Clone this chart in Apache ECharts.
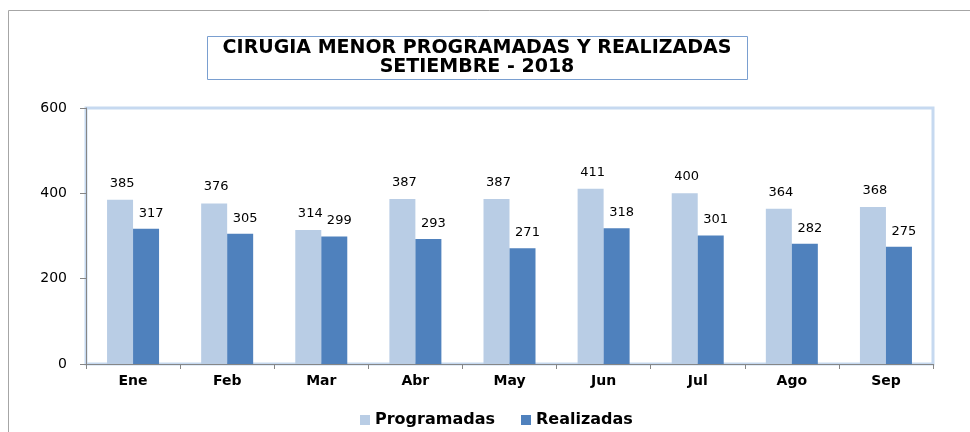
<!DOCTYPE html>
<html>
<head>
<meta charset="utf-8">
<script src="https://cdn.jsdelivr.net/npm/echarts@6/dist/echarts.min.js"></script>
<style>
  html, body { margin: 0; padding: 0; background: #ffffff; }
  #chart { width: 970px; height: 432px; }
</style>
</head>
<body>
<div id="chart"></div>
<script>
const months = ["Ene", "Feb", "Mar", "Abr", "May", "Jun", "Jul", "Ago", "Sep"];
const programadas = [385, 376, 314, 387, 387, 411, 400, 364, 368];
const realizadas = [317, 305, 299, 293, 271, 318, 301, 282, 275];
const titleLines = ["CIRUGIA MENOR PROGRAMADAS Y REALIZADAS", "SETIEMBRE - 2018"];

const font = "DejaVu Sans";
const axisGray = "#868686";

const chart = echarts.init(document.getElementById("chart"), null, { renderer: "canvas" });

chart.setOption({
  backgroundColor: "#ffffff",
  animation: false,
  textStyle: { fontFamily: font },
  graphic: [
    {
      type: "rect",
      shape: { x: 8.5, y: 10.5, width: 1000, height: 500 },
      style: { fill: null, stroke: "#a6a6a6", lineWidth: 1 },
      silent: true,
    },
    {
      type: "rect",
      shape: { x: 207.5, y: 36.5, width: 540, height: 43 },
      style: { fill: "#ffffff", stroke: "#7a9fd0", lineWidth: 1 },
      silent: true,
    },
    {
      type: "text",
      x: 477,
      y: 39,
      style: {
        text: titleLines.join("\n"),
        fill: "#000000",
        font: "bold 19px " + font,
        lineHeight: 19,
        align: "center",
        verticalAlign: "top",
      },
      silent: true,
    },
  ],
  legend: {
    left: 355,
    top: 407,
    itemWidth: 10,
    itemHeight: 10,
    itemGap: 26,
    icon: "rect",
    textStyle: { color: "#000000", fontSize: 16, fontWeight: "bold", fontFamily: font },
    data: ["Programadas", "Realizadas"],
  },
  grid: {
    left: 86,
    right: 37,
    top: 108,
    bottom: 68,
    show: true,
    borderColor: "#c6d9f0",
    borderWidth: 3,
  },
  xAxis: {
    type: "category",
    data: months,
    axisLine: { lineStyle: { color: axisGray, width: 1 } },
    axisTick: { show: true, length: 5, lineStyle: { color: axisGray } },
    axisLabel: { color: "#000000", fontSize: 14, fontWeight: "bold", margin: 10, fontFamily: font },
    splitLine: { show: false },
  },
  yAxis: {
    type: "value",
    min: 0,
    max: 600,
    interval: 200,
    axisLine: { show: true, lineStyle: { color: axisGray, width: 1 } },
    axisTick: { show: true, length: 6, lineStyle: { color: axisGray } },
    axisLabel: { color: "#000000", fontSize: 14, margin: 19, fontFamily: font },
    splitLine: { show: false },
  },
  series: [
    {
      name: "Programadas",
      type: "bar",
      data: programadas,
      barWidth: 26,
      barGap: "0%",
      itemStyle: { color: "#b9cde5" },
      label: { show: true, position: "top", distance: 10, offset: [2, 0], color: "#000000", fontSize: 13, fontFamily: font },
    },
    {
      name: "Realizadas",
      type: "bar",
      data: realizadas,
      barWidth: 26,
      itemStyle: { color: "#4f81bd" },
      label: { show: true, position: "top", distance: 9, offset: [5, 0], color: "#000000", fontSize: 13, fontFamily: font },
    },
  ],
});
</script>
</body>
</html>
